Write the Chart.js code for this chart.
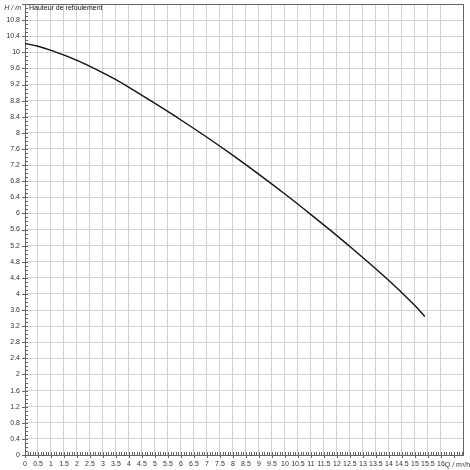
<!DOCTYPE html>
<html lang="fr">
<head>
<meta charset="UTF-8" />
<title>Hauteur de refoulement</title>
<script src="https://cdn.jsdelivr.net/npm/chart.js@4.4.1/dist/chart.umd.min.js"></script>
<style>
  html, body { margin: 0; padding: 0; background: #fff; }
  #wrap { width: 470px; height: 470px; }
</style>
</head>
<body>
<div id="wrap"><canvas id="chart" width="470" height="470"></canvas></div>
<script>
// pump curve: flow Q (m³/h) vs head H (m)
const flowQ = [0, 0.5, 1, 1.5, 2, 2.5, 3, 3.5, 4, 5, 6, 7, 8, 9, 10, 11, 11.73, 12.6, 13.25, 13.85, 14.45, 15, 15.38]
const headH = [10.22, 10.15, 10.05, 9.93, 9.8, 9.65, 9.49, 9.32, 9.13, 8.73, 8.32, 7.89, 7.44, 6.97, 6.48, 5.97, 5.59, 5.12, 4.76, 4.42, 4.06, 3.71, 3.44]
const xTitle = 'Q / m³/h'
const yTitle = 'H / m'
const chartTitle = 'Hauteur de refoulement'

const fontFamily = '"Liberation Sans", Arial, sans-serif'
const font = { family: fontFamily, size: 7 }
const gridColor = '#d2d2d2'
const axisColor = '#666'

const near = (v, step) => Math.abs(v / step - Math.round(v / step)) < 1e-6

// small ticks along both axes (every 0.1), axis titles and chart title
const extras = {
  id: 'extras',
  afterDraw(chart) {
    const { ctx, chartArea: a, scales: { x, y } } = chart
    ctx.save()
    ctx.strokeStyle = axisColor
    ctx.lineWidth = 1
    ctx.beginPath()
    for (let i = 0; i <= 168; i++) {
      const v = i / 10
      const px = Math.round(x.getPixelForValue(v)) + 0.5
      if (px > a.right) break
      const major = near(v, 0.5)
      ctx.moveTo(px, a.bottom - 3)
      ctx.lineTo(px, a.bottom + (major ? 3 : 0))
    }
    for (let i = 0; i <= 112; i++) {
      const v = i / 10
      const py = Math.round(y.getPixelForValue(v)) + 0.5
      if (py < a.top) break
      const major = near(v, 0.4)
      ctx.moveTo(a.left + 3, py)
      ctx.lineTo(a.left - (major ? 3 : 0), py)
    }
    ctx.stroke()

    ctx.font = `7px ${fontFamily}`
    ctx.textBaseline = 'middle'
    ctx.fillStyle = '#111'
    ctx.fillText(chartTitle, a.left + 4, a.top + 4)

    ctx.fillStyle = '#333'
    ctx.textAlign = 'left'
    const q16 = x.getPixelForValue(16) + ctx.measureText('16').width / 2
    ctx.fillText(xTitle, q16, a.bottom + 10)
    ctx.font = `italic 7px ${fontFamily}`
    ctx.textAlign = 'right'
    ctx.fillText(yTitle, a.left - 4, y.getPixelForValue(11.2) + 4)
    ctx.restore()
  },
}

const noPad = (s) => { s.paddingTop = 0; s.paddingBottom = 0; s.paddingLeft = 0; s.paddingRight = 0 }

new Chart(document.getElementById('chart'), {
  type: 'line',
  data: {
    datasets: [{
      data: flowQ.map((q, i) => ({ x: q, y: headH[i] })),
      borderColor: '#111',
      borderWidth: 1.4,
      pointRadius: 0,
      cubicInterpolationMode: 'monotone',
      fill: false,
    }],
  },
  options: {
    responsive: false,
    animation: false,
    layout: { padding: { top: 4, right: 7, left: 0, bottom: 0 } },
    plugins: { legend: { display: false }, tooltip: { enabled: false } },
    scales: {
      x: {
        type: 'linear',
        min: 0,
        max: 16.85,
        afterBuildTicks(s) { s.ticks = s.ticks.filter((t) => near(t.value, 0.5)) },
        afterFit(s) { s.height = 15; noPad(s) },
        grid: { color: gridColor, drawTicks: false, lineWidth: 1 },
        border: { color: axisColor },
        ticks: {
          stepSize: 0.5,
          font,
          color: '#333',
          padding: 5,
          maxRotation: 0,
          autoSkip: false,
          callback: (v) => (v > 16.01 ? '' : String(v)),
        },
      },
      y: {
        type: 'linear',
        min: 0,
        max: 11.2,
        afterBuildTicks(s) { s.ticks = s.ticks.filter((t) => near(t.value, 0.4)) },
        afterFit(s) { s.width = 25; noPad(s) },
        grid: { color: gridColor, drawTicks: false, lineWidth: 1 },
        border: { color: axisColor },
        ticks: {
          stepSize: 0.4,
          font,
          color: '#333',
          padding: 5,
          autoSkip: false,
          callback: (v) => (v > 11.1 ? '' : String(Math.round(v * 10) / 10)),
        },
      },
      x2: {
        type: 'linear', position: 'top', display: true,
        min: 0, max: 16.85,
        afterFit(s) { s.height = 0; noPad(s) },
        grid: { display: false, drawTicks: false },
        border: { color: axisColor },
        ticks: { display: false },
      },
      y2: {
        type: 'linear', position: 'right', display: true,
        min: 0, max: 11.2,
        afterFit(s) { s.width = 0; noPad(s) },
        grid: { display: false, drawTicks: false },
        border: { color: axisColor },
        ticks: { display: false },
      },
    },
  },
  plugins: [extras],
})
</script>
</body>
</html>
